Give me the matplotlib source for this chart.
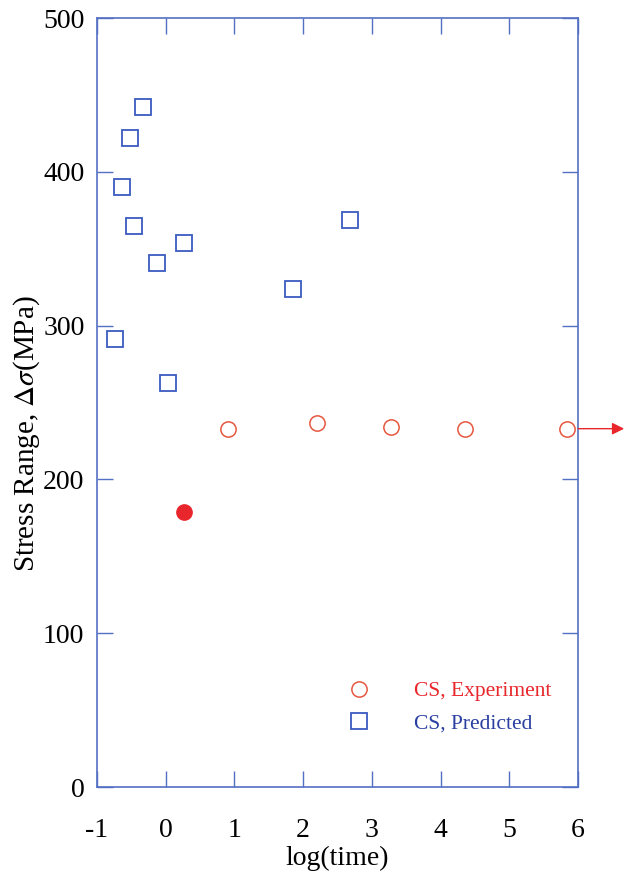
import numpy as np
from matplotlib import pyplot as plt

plt.rcParams['font.family'] = ['Liberation Serif', 'DejaVu Serif']
plt.rcParams['mathtext.fontset'] = 'stix'
plt.rcParams['axes.unicode_minus'] = False

# ---------- Data
# Predicted (open blue squares)
pred_x = [-0.33, -0.52, -0.64, -0.46, -0.12, 0.26, -0.74, 0.03, 1.86, 2.68]
pred_y = [442, 422, 390, 365, 341, 354, 291, 263, 324, 369]
# Experiment (open red circles)
exp_x = [0.90, 2.20, 3.28, 4.36, 5.84]
exp_y = [233, 237, 234, 233, 233]
# Experiment, failed specimen (filled red circle)
fail_x = [0.26]
fail_y = [179]

blue = '#3a5cc0'
red = '#e8262b'
spine = '#5470c4'

fig = plt.figure(figsize=(6.24, 8.71), dpi=100)
ax = fig.add_axes([0.1554, 0.0964, 0.7708, 0.8829])

ax.plot(exp_x, exp_y, 'o', ms=11, mfc='none', mec='#e5573f', mew=1.1,
        label='CS, Experiment', clip_on=False)
ax.plot(pred_x, pred_y, 's', ms=11, mfc='none', mec=blue, mew=1.3,
        label='CS, Predicted')
ax.plot(fail_x, fail_y, 'o', ms=11, color=red)

# run-out arrow on the last experimental point
ax.annotate('', xy=(1.096, exp_y[-1]), xycoords=('axes fraction', 'data'),
            xytext=(exp_x[-1], exp_y[-1]), textcoords='data',
            arrowprops=dict(arrowstyle='-|>', color=red, lw=1.0,
                            shrinkA=8, shrinkB=0, mutation_scale=18),
            annotation_clip=False)

ax.set_xlim(-1, 6)
ax.set_ylim(0, 500)
ax.set_xticks(np.arange(-1, 7, 1))
ax.set_yticks(np.arange(0, 501, 100))
for s in ax.spines.values():
    s.set_color(spine)
    s.set_linewidth(1.2)
ax.tick_params(direction='in', top=True, right=True, length=11.5, width=1,
               color=spine, labelsize=20)
ax.tick_params(axis='x', pad=22)
ax.tick_params(axis='y', pad=9)

ax.set_xlabel('log(time)', fontsize=20, labelpad=2)
ax.set_ylabel(r'Stress Range, $\Delta\sigma$(MPa)', fontsize=21, labelpad=4)
ax.yaxis.set_label_coords(-0.115, 0.46)

leg = ax.legend(loc='lower right', bbox_to_anchor=(0.985, 0.045), frameon=False,
                fontsize=15.5, handletextpad=1.55, labelspacing=0.55)
for t, c in zip(leg.get_texts(), [red, '#2a3fa0']):
    t.set_color(c)

plt.savefig('out.png', dpi=100)
